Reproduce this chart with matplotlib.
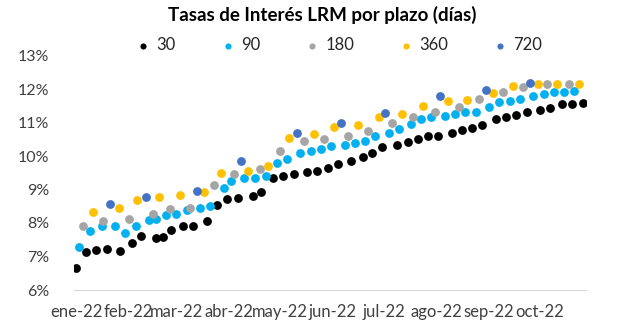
import datetime as dt
import numpy as np
import matplotlib
matplotlib.use("Agg")
import matplotlib.pyplot as plt
import matplotlib.dates as mdates

## datos (tasas en %)
fechas_30 = ["2022-01-01", "2022-01-07", "2022-01-13", "2022-01-19", "2022-01-27",
             "2022-02-03", "2022-02-08", "2022-02-17", "2022-02-21", "2022-02-26",
             "2022-03-05", "2022-03-11", "2022-03-19", "2022-03-25", "2022-03-31",
             "2022-04-06", "2022-04-15", "2022-04-20", "2022-04-27", "2022-05-03",
             "2022-05-09", "2022-05-17", "2022-05-23", "2022-05-29", "2022-06-04",
             "2022-06-12", "2022-06-19", "2022-06-24", "2022-06-30", "2022-07-09",
             "2022-07-15", "2022-07-21", "2022-07-27", "2022-08-02", "2022-08-10",
             "2022-08-16", "2022-08-22", "2022-08-28", "2022-09-05", "2022-09-11",
             "2022-09-17", "2022-09-23", "2022-10-01", "2022-10-07", "2022-10-14",
             "2022-10-20", "2022-10-26"]
tasa_30 = [6.67, 7.13, 7.20, 7.23, 7.15, 7.40, 7.60, 7.56, 7.57, 7.78,
           7.91, 7.91, 8.06, 8.53, 8.71, 8.76, 8.80, 8.92, 9.35, 9.40,
           9.47, 9.52, 9.55, 9.65, 9.77, 9.86, 9.98, 10.09, 10.26, 10.34,
           10.41, 10.52, 10.59, 10.61, 10.70, 10.78, 10.83, 10.93, 11.10, 11.17,
           11.22, 11.30, 11.37, 11.43, 11.54, 11.54, 11.59]

fechas_90 = ["2022-01-03", "2022-01-09", "2022-01-16", "2022-01-24", "2022-01-30",
             "2022-02-05", "2022-02-13", "2022-02-17", "2022-02-23", "2022-03-01",
             "2022-03-07", "2022-03-15", "2022-03-21", "2022-03-29", "2022-04-02",
             "2022-04-10", "2022-04-16", "2022-04-23", "2022-04-29", "2022-05-05",
             "2022-05-13", "2022-05-19", "2022-05-25", "2022-05-31", "2022-06-08",
             "2022-06-14", "2022-06-20", "2022-06-26", "2022-07-04", "2022-07-10",
             "2022-07-17", "2022-07-23", "2022-07-29", "2022-08-06", "2022-08-12",
             "2022-08-18", "2022-08-24", "2022-09-01", "2022-09-07", "2022-09-13",
             "2022-09-19", "2022-09-27", "2022-10-03", "2022-10-09", "2022-10-15",
             "2022-10-21"]
tasa_90 = [7.28, 7.77, 7.90, 7.90, 7.69, 7.90, 8.09, 8.11, 8.24, 8.27,
           8.38, 8.46, 8.51, 9.04, 9.25, 9.35, 9.35, 9.39, 9.79, 9.90,
           10.09, 10.16, 10.21, 10.29, 10.33, 10.38, 10.46, 10.61, 10.70, 10.80,
           10.97, 11.09, 11.15, 11.19, 11.24, 11.30, 11.32, 11.47, 11.60, 11.65,
           11.71, 11.80, 11.86, 11.90, 11.90, 11.94]

fechas_180 = ["2022-01-05", "2022-01-17", "2022-02-01", "2022-02-15", "2022-02-25",
              "2022-03-09", "2022-03-23", "2022-04-04", "2022-04-19", "2022-05-01",
              "2022-05-15", "2022-05-27", "2022-06-10", "2022-06-22", "2022-07-06",
              "2022-07-18", "2022-07-31", "2022-08-14", "2022-08-26", "2022-09-09",
              "2022-09-21", "2022-10-05", "2022-10-18"]
tasa_180 = [7.90, 8.06, 8.12, 8.26, 8.42, 8.46, 9.12, 9.46, 9.61, 10.16,
            10.44, 10.50, 10.61, 10.76, 11.00, 11.15, 11.30, 11.46, 11.69, 11.91,
            12.05, 12.15, 12.15]

fechas_360 = ["2022-01-11", "2022-01-26", "2022-02-06", "2022-02-19", "2022-03-03",
              "2022-03-17", "2022-03-27", "2022-04-12", "2022-04-24", "2022-05-06",
              "2022-05-21", "2022-06-02", "2022-06-16", "2022-06-28", "2022-07-12",
              "2022-07-24", "2022-08-08", "2022-08-19", "2022-09-03", "2022-09-15",
              "2022-09-30", "2022-10-11", "2022-10-24"]
tasa_360 = [8.33, 8.46, 8.68, 8.78, 8.84, 8.93, 9.50, 9.55, 9.69, 10.55,
            10.66, 10.86, 10.94, 11.15, 11.24, 11.50, 11.64, 11.67, 11.89, 12.08,
            12.16, 12.16, 12.16]

fechas_720 = ["2022-01-21", "2022-02-11", "2022-03-13", "2022-04-08", "2022-05-11",
              "2022-06-06", "2022-07-02", "2022-08-03", "2022-08-30", "2022-09-25"]
tasa_720 = [8.57, 8.78, 8.97, 9.84, 10.70, 11.00, 11.27, 11.80, 11.97, 12.17]

plazos = ["30", "90", "180", "360", "720"]
colores = ["#000000", "#00B0F0", "#A5A5A5", "#FFC000", "#4472C4"]
meses = ["ene-22", "feb-22", "mar-22", "abr-22", "may-22",
         "jun-22", "jul-22", "ago-22", "sep-22", "oct-22"]

series = [(fechas_30, tasa_30), (fechas_90, tasa_90), (fechas_180, tasa_180),
          (fechas_360, tasa_360), (fechas_720, tasa_720)]

plt.rcParams['font.family'] = ['Lato', 'DejaVu Sans']

fig = plt.figure(figsize=(6.17, 3.35), dpi=100)
ax = fig.add_axes([74/617, 45/335, 512/617, 234.5/335])

for (f, t), nom, c in zip(series, plazos, colores):
    x = [dt.datetime.strptime(s, "%Y-%m-%d") for s in f]
    ax.scatter(x, t, s=40, color=c, label=nom, linewidths=0)

## ejes
x0 = mdates.date2num(dt.datetime(2022, 1, 1))
ax.set_xlim(x0 - 1.2, x0 + 300)
ax.set_ylim(6, 13)
ax.set_yticks(np.arange(6, 14))
ax.set_yticklabels(["%d%%" % v for v in range(6, 14)])
ticks = [dt.datetime(2022, m, 1) for m in range(1, 11)]
ax.set_xticks(ticks)
ax.set_xticklabels(meses)
ax.tick_params(length=0, labelcolor="#404040")
ax.tick_params(axis="y", labelsize=11.5, pad=18)
ax.tick_params(axis="x", labelsize=12, pad=10)
for s in ["top", "right", "left"]:
    ax.spines[s].set_visible(False)
ax.spines["bottom"].set_color("#D9D9D9")
ax.spines["bottom"].set_linewidth(0.8)

fig.text(0.523, 0.955, "Tasas de Interés LRM por plazo (días)", ha="center", va="center",
         fontsize=13.5, fontweight="bold", color="#000000")
fig.legend(loc="center", bbox_to_anchor=(0.547, 0.865), ncol=5, frameon=False,
           fontsize=12, markerscale=0.7, handlelength=1.2, handletextpad=0.2,
           columnspacing=2.5, labelcolor="#262626")

fig.savefig("out.png", dpi=100)
